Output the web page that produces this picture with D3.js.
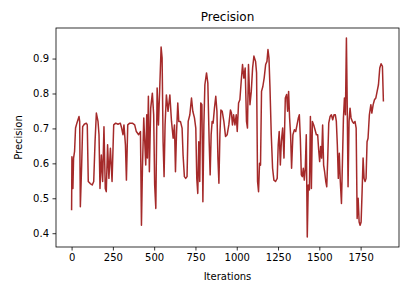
<!DOCTYPE html>
<html><head><meta charset="utf-8">
<script src="https://cdn.jsdelivr.net/npm/d3@7"></script>
<style>body{margin:0;background:#fff}svg{display:block}</style>
</head><body>
<svg id="c" width="411" height="298"></svg>
<script>
const iterations = [0,2,8,12,18,24,32,45,49,53,61,67,77,89,95,101,113,125,134,142,150,160,166,172,180,188,196,204,210,218,226,235,245,255,267,281,295,303,311,317,326,332,340,352,368,382,392,406,417,423,429,437,443,449,455,459,465,471,479,489,497,503,510,518,526,534,542,548,554,560,566,574,584,595,605,
615,623,629,635,643,649,659,669,675,683,691,699,706,716,726,734,744,752,758,764,770,776,782,789,795,801,807,817,825,833,839,845,851,857,865,873,880,886,892,898,904,912,922,932,942,952,962,968,974,981,989,997,1003,1011,1019,1027,1035,1043,1051,1059,1065,1071,1080,1088,1096,1104,1114,1120,1126,1132,1138,1144,1150,1158,1166,1175,1183,1189,1195,1201,1209,1217,1225,1235,1245,1251,1257,1264,1270,1278,1286,1294,
1302,1308,1314,1320,1326,1332,1340,1349,1357,1365,1373,1379,1385,1391,1397,1403,1409,1415,1421,1427,1433,1440,1446,1452,1458,1466,1474,1482,1490,1496,1502,1508,1514,1520,1526,1532,1539,1545,1551,1557,1565,1573,1581,1589,1597,1603,1609,1615,1621,1627,1634,1640,1646,1652,1658,1664,1668,1674,1680,1686,1692,1700,1708,1716,1723,1729,1735,1741,1747,1753,1759,1765,1771,1777,1783,1789,1795,1803,1812,1818,1826,1834,1842,1850,1858,1866,1874,1882,1888];
const precision = [0.466,0.619,0.528,0.615,0.634,0.701,0.715,0.734,0.720,0.476,0.595,0.705,0.712,0.715,0.710,0.548,0.542,0.538,0.548,0.662,0.744,0.720,0.682,0.528,0.624,0.548,0.705,0.528,0.519,0.653,0.557,0.643,0.548,0.710,0.715,0.712,0.715,0.701,0.682,0.710,0.653,0.552,0.710,0.715,0.715,0.710,0.691,0.682,0.691,0.423,0.586,0.730,0.662,0.595,0.739,0.615,0.792,0.576,0.758,0.801,0.739,0.538,0.471,0.816,0.710,0.820,0.933,0.902,0.662,0.562,0.710,0.796,0.749,0.796,0.720,
0.672,0.710,0.576,0.682,0.773,0.720,0.720,0.701,0.624,0.562,0.557,0.562,0.720,0.739,0.787,0.749,0.730,0.701,0.557,0.514,0.662,0.548,0.773,0.768,0.490,0.710,0.825,0.859,0.830,0.662,0.567,0.682,0.720,0.715,0.758,0.792,0.749,0.615,0.543,0.682,0.753,0.749,0.720,0.677,0.682,0.710,0.753,0.744,0.710,0.739,0.710,0.739,0.691,0.773,0.782,0.835,0.883,0.844,0.873,0.720,0.701,0.883,0.768,0.806,0.873,0.907,0.892,0.859,0.548,0.519,0.600,0.595,0.806,0.820,0.844,0.883,0.892,0.926,0.902,0.820,0.682,0.586,0.552,0.548,0.557,0.653,0.691,0.595,0.662,0.701,0.615,0.787,
0.797,0.749,0.806,0.730,0.682,0.586,0.682,0.696,0.691,0.710,0.730,0.739,0.672,0.567,0.562,0.586,0.552,0.586,0.682,0.389,0.538,0.524,0.734,0.528,0.720,0.710,0.696,0.682,0.682,0.638,0.605,0.648,0.615,0.710,0.595,0.576,0.548,0.533,0.615,0.715,0.734,0.739,0.725,0.739,0.739,0.720,0.653,0.557,0.629,0.548,0.485,0.605,0.730,0.787,0.739,0.959,0.806,0.533,0.720,0.758,0.730,0.720,0.715,0.720,0.701,0.442,0.500,0.432,0.423,0.432,0.519,0.615,0.557,0.548,0.557,0.662,0.672,0.739,0.768,0.744,0.768,0.782,0.787,0.806,0.825,0.873,0.885,0.878,0.777];
const xTicks = [0,250,500,750,1000,1250,1500,1750];
const yTicks = [0.4,0.5,0.6,0.7,0.8,0.9];
const title = "Precision", xLabel = "Iterations", yLabel = "Precision";

const svg = d3.select("#c");
const L = 56, R = 399, T = 28, B = 247;
const font = "DejaVu Sans, sans-serif";
const pad = (e) => { const d = (e[1]-e[0])*0.05; return [e[0]-d, e[1]+d]; };
const x = d3.scaleLinear().domain(pad(d3.extent(iterations))).range([L, R]);
const y = d3.scaleLinear().domain(pad(d3.extent(precision))).range([B, T]);

const line = d3.line().x((d,i)=>x(iterations[i])).y(d=>y(d));
svg.append("defs").append("clipPath").attr("id","clip").append("rect").attr("x",L).attr("y",T).attr("width",R-L).attr("height",B-T);
svg.append("path").datum(precision).attr("d", line).attr("fill","none")
  .attr("stroke","#a52a2a").attr("stroke-width",1.5).attr("stroke-linejoin","round").attr("clip-path","url(#clip)");

svg.append("rect").attr("x",L).attr("y",T).attr("width",R-L).attr("height",B-T)
  .attr("fill","none").attr("stroke","#000").attr("stroke-width",0.8);

const xa = svg.append("g").attr("transform",`translate(0,${B})`)
  .call(d3.axisBottom(x).tickValues(xTicks).tickSize(3.5).tickPadding(3.5).tickFormat(d3.format("d")));
const ya = svg.append("g").attr("transform",`translate(${L},0)`)
  .call(d3.axisLeft(y).tickValues(yTicks).tickSize(3.5).tickPadding(3.5).tickFormat(d3.format(".1f")));
[xa, ya].forEach(a => {
  a.select(".domain").remove();
  a.selectAll("line").attr("stroke","#000").attr("stroke-width",0.8);
  a.selectAll("text").attr("font-family",font).attr("font-size",10).attr("fill","#000");
});

svg.append("text").attr("x",(L+R)/2).attr("y",21).attr("text-anchor","middle")
  .attr("font-family",font).attr("font-size",12).text(title);
svg.append("text").attr("x",(L+R)/2).attr("y",280).attr("text-anchor","middle")
  .attr("font-family",font).attr("font-size",10).text(xLabel);
svg.append("text").attr("transform",`translate(22,${(T+B)/2}) rotate(-90)`).attr("text-anchor","middle")
  .attr("font-family",font).attr("font-size",10).text(yLabel);
</script>
</body></html>
